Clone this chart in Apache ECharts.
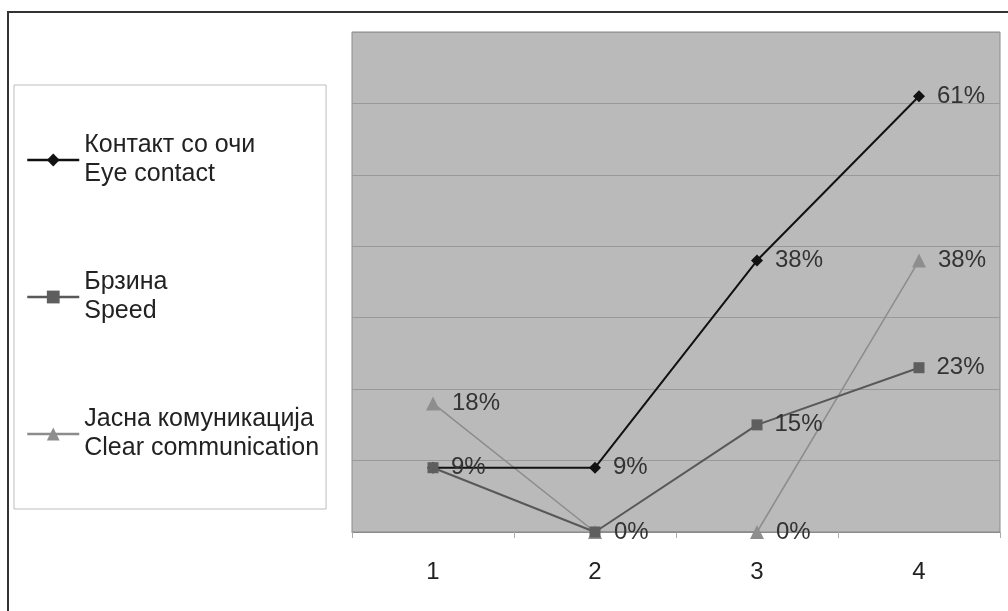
<!DOCTYPE html>
<html>
<head>
<meta charset="utf-8">
<script src="https://cdn.jsdelivr.net/npm/echarts@6/dist/echarts.min.js"></script>
<style>
html,body{margin:0;padding:0;background:#fff;}
#chart{width:1008px;height:611px;}
</style>
</head>
<body>
<div id="chart"></div>
<script>
const categories = ['1', '2', '3', '4'];
const eyeContact = [9, 9, 38, 61];
const speed = [9, 0, 15, 23];
const clearComm = [18, 0, 0, 38];
const seriesNames = ['Контакт со очи\nEye contact', 'Брзина\nSpeed', 'Јасна комуникација\nClear communication'];

const chart = echarts.init(document.getElementById('chart'));
const font = 'Liberation Sans, Arial, sans-serif';
const lbl = {
  show: true, position: 'right', distance: 12,
  formatter: p => p.value + '%', color: '#333', fontSize: 24, fontFamily: font
};
chart.setOption({
  animation: false,
  backgroundColor: '#fff',
  graphic: [{
    type: 'rect', z: 100, silent: true,
    shape: {x: 8, y: 12, width: 1020, height: 620},
    style: {fill: 'none', stroke: '#333', lineWidth: 2}
  }],
  grid: {
    left: 352, top: 32, width: 648, height: 500,
    show: true, backgroundColor: '#bababa', borderColor: '#8a8a8a', borderWidth: 1
  },
  legend: {
    orient: 'vertical', left: 14, top: 85,
    padding: [46, 7, 46, 12],
    itemGap: 79, itemWidth: 52, itemHeight: 16,
    borderColor: '#bdbdbd', borderWidth: 1,
    lineStyle: {width: 2.5},
    textStyle: {fontSize: 25, fontFamily: font, color: '#222', lineHeight: 29},
    data: seriesNames
  },
  xAxis: {
    type: 'category', data: categories, boundaryGap: true,
    axisLine: {lineStyle: {color: '#8a8a8a', width: 1}},
    axisTick: {show: true, length: 6, lineStyle: {color: '#aaa'}},
    axisLabel: {fontSize: 24, fontFamily: font, color: '#222', margin: 28}
  },
  yAxis: {
    type: 'value', min: 0, max: 70, interval: 10,
    axisLabel: {show: false}, axisLine: {show: false}, axisTick: {show: false},
    splitLine: {lineStyle: {color: '#999', width: 1}}
  },
  series: [
    {
      name: seriesNames[0], type: 'line', data: eyeContact,
      symbol: 'diamond', symbolSize: 12, z: 3,
      lineStyle: {color: '#111', width: 2}, itemStyle: {color: '#111'},
      label: lbl, labelLayout: {hideOverlap: true}
    },
    {
      name: seriesNames[1], type: 'line', data: speed,
      symbol: 'rect', symbolSize: 11, z: 4,
      lineStyle: {color: '#585858', width: 2}, itemStyle: {color: '#5e5e5e'},
      label: lbl, labelLayout: {hideOverlap: true}
    },
    {
      name: seriesNames[2], type: 'line', data: clearComm,
      symbol: 'triangle', symbolSize: 14, z: 2,
      lineStyle: {color: '#8c8c8c', width: 1.5}, itemStyle: {color: '#8e8e8e'},
      label: lbl, labelLayout: {hideOverlap: true}
    }
  ]
});
</script>
</body>
</html>
